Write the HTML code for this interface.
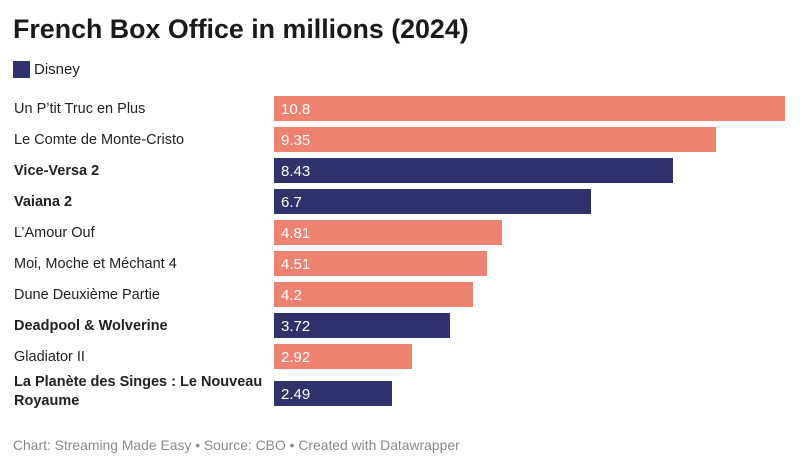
<!DOCTYPE html>
<html><head><meta charset="utf-8"><style>
body{margin:0;width:800px;height:467px;background:#fff;font-family:"Liberation Sans",sans-serif;position:relative;overflow:hidden;color:#222}
#title{position:absolute;left:13px;top:14px;font-size:26.8px;font-weight:bold;color:#1a1a1a}
#legend{position:absolute;left:13px;top:61px;font-size:15px;display:flex;align-items:center}
#legend span.sw{width:17px;height:17px;background:#30336b;margin-right:4px;display:inline-block}
.lbl{position:absolute;left:14px;font-size:14.5px;color:#222;line-height:19px;width:260px}
.bar{position:absolute;height:25px}
.val{position:absolute;color:#fff;font-size:15px;line-height:25px}
#footer{position:absolute;left:13px;top:437px;font-size:13.9px;color:#8a8a8a}
</style></head><body>
<div id="title">French Box Office in millions (2024)</div>
<div id="legend"><span class="sw"></span>Disney</div>
<div id="chart"></div>
<div id="footer">Chart: Streaming Made Easy • Source: CBO • Created with Datawrapper</div>
<script>
const categories=["Un P’tit Truc en Plus","Le Comte de Monte-Cristo","Vice-Versa 2","Vaiana 2","L’Amour Ouf","Moi, Moche et Méchant 4","Dune Deuxième Partie","Deadpool & Wolverine","Gladiator II","La Planète des Singes : Le Nouveau Royaume"];
const values=[10.8,9.35,8.43,6.7,4.81,4.51,4.2,3.72,2.92,2.49];
const labels=["10.8","9.35","8.43","6.7","4.81","4.51","4.2","3.72","2.92","2.49"];
const disney=[false,false,true,true,false,false,false,true,false,true];
const x0=274,x1=785,maxV=10.8;
function xs(v){return x0+(v/maxV)*(x1-x0);}
function ys(i){return 96+i*31+(i>=9?6:0);}
const c=document.getElementById('chart');
categories.forEach((cat,i)=>{
  const y=ys(i);
  const l=document.createElement('div');
  
  
  l.className='lbl';l.textContent=cat;
  if(disney[i])l.style.fontWeight='bold';
  if(i===9){l.style.top=(y-8)+'px';}else{l.style.top=(y+4)+'px';}
  c.appendChild(l);
  const b=document.createElement('div');
  
  
  b.className='bar';b.style.left=x0+'px';b.style.top=y+'px';
  b.style.width=(xs(values[i])-x0)+'px';
  b.style.background=disney[i]?'#30336b':'#ef8170';
  c.appendChild(b);
  const v=document.createElement('div');
  
  
  v.className='val';v.style.left=(x0+7)+'px';v.style.top=(y+1)+'px';v.textContent=labels[i];
  c.appendChild(v);
});
</script>
</body></html>
